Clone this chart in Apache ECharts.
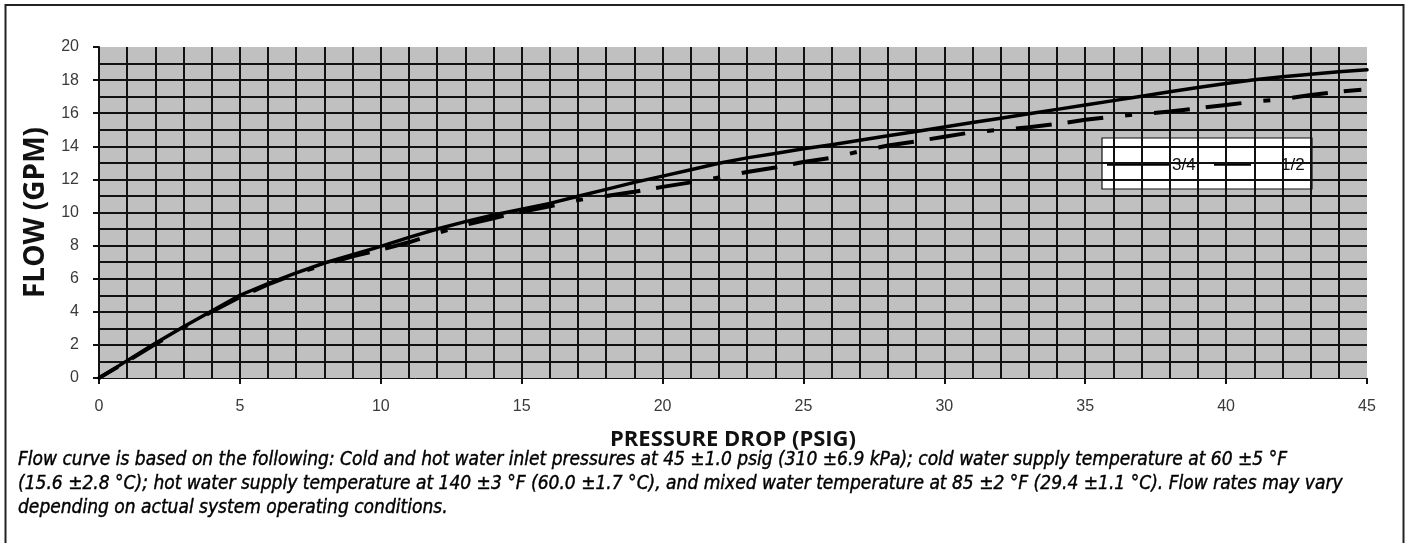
<!DOCTYPE html>
<html><head><meta charset="utf-8">
<script src="https://cdn.jsdelivr.net/npm/echarts@6/dist/echarts.min.js"></script>
<style>html,body{margin:0;padding:0;background:#fff}#c{width:1407px;height:543px}</style>
</head><body><div id="c"></div>
<script>
const pressure34 = [0,1,2,3,4,5,6,7,8,9,10,11,12,13,14,15,16,17,18,19,20,21,22,23,24,25,26,27,28,29,30,31,32,33,34,35,36,37,38,39,40,41,42,43,44,45];
const flow34 = [0,1.05,2.1,3.1,4.05,5.0,5.7,6.35,6.95,7.45,7.95,8.5,9.0,9.45,9.85,10.2,10.55,10.98,11.4,11.82,12.2,12.58,12.98,13.3,13.57,13.85,14.1,14.37,14.64,14.9,15.17,15.44,15.7,15.97,16.23,16.5,16.76,17.03,17.3,17.55,17.8,18.02,18.2,18.35,18.5,18.62];
const pressure12 = [0,1,2,3,4,5,6,7,8,9,10,11,12,13,14,15,16,17,18,19,20,21,22,23,24,25,26,27,28,29,30,31,32,33,34,35,36,37,38,39,40,41,42,43,44,44.8];
const flow12 = [0,1.0,2.05,3.05,4.0,4.9,5.65,6.3,6.85,7.35,7.75,8.2,8.75,9.25,9.65,10.05,10.38,10.75,11.0,11.25,11.55,11.82,12.12,12.45,12.72,13.05,13.3,13.7,14.05,14.3,14.58,14.85,15.0,15.15,15.35,15.6,15.8,15.95,16.1,16.3,16.5,16.7,16.85,17.1,17.3,17.42];
const seriesNames = ['3/4','1/2'];
const xTitle = 'PRESSURE DROP (PSIG)';
const yTitle = 'FLOW (GPM)';
const captionLines = [
  'Flow curve is based on the following: Cold and hot water inlet pressures at 45 \u00b11.0 psig (310 \u00b16.9 kPa); cold water supply temperature at 60 \u00b15 \u00b0F',
  '(15.6 \u00b12.8 \u00b0C); hot water supply temperature at 140 \u00b13 \u00b0F (60.0 \u00b11.7 \u00b0C), and mixed water temperature at 85 \u00b12 \u00b0F (29.4 \u00b11.1 \u00b0C). Flow rates may vary',
  'depending on actual system operating conditions.'
];

const capFamily = '"Liberation Sans Narrow","DejaVu Sans Condensed","Noto Sans",sans-serif';
const cv = document.createElement('canvas').getContext('2d');
cv.font = 'italic 20px ' + capFamily;
const w20 = cv.measureText(captionLines[0]).width;
const capSize = Math.round(20 * 1267 / w20 * 10) / 10;

const chart = echarts.init(document.getElementById('c'), null, {renderer: 'canvas'});
const gridLine = {show: true, lineStyle: {color: '#111', width: 2}};
const labelFont = '"Liberation Sans",Arial,sans-serif';
const option = {
  backgroundColor: '#fff',
  animation: false,
  grid: {left: 99, right: 40, top: 47, bottom: 165, show: true, backgroundColor: '#c0c0c0', borderWidth: 0},
  xAxis: {
    type: 'value', min: 0, max: 45, interval: 5,
    name: xTitle, nameLocation: 'middle', nameGap: 51,
    nameTextStyle: {fontFamily: '"Open Sans",sans-serif', fontWeight: 'bold', fontSize: 22, color: '#111'},
    axisLine: {show: true, onZero: false, lineStyle: {color: '#111', width: 1}},
    axisTick: {show: true, length: 6, lineStyle: {color: '#111', width: 2}},
    axisLabel: {margin: 21, fontFamily: labelFont, fontSize: 16, color: '#3a3a3a'},
    splitLine: {show: true, showMinLine: false, showMaxLine: false, lineStyle: {color: '#111', width: 2}},
    minorTick: {show: false, splitNumber: 5},
    minorSplitLine: gridLine
  },
  yAxis: {
    type: 'value', min: 0, max: 20, interval: 2,
    name: yTitle, nameLocation: 'middle', nameGap: 45, nameRotate: 90,
    nameTextStyle: {fontFamily: '"Open Sans",sans-serif', fontWeight: 'bold', fontSize: 28, color: '#111'},
    axisLine: {show: true, lineStyle: {color: '#111', width: 2}},
    axisTick: {show: true, length: 6, lineStyle: {color: '#111', width: 2}},
    axisLabel: {margin: 20, fontFamily: labelFont, fontSize: 16, color: '#3a3a3a'},
    splitLine: {show: true, showMinLine: false, showMaxLine: false, lineStyle: {color: '#111', width: 2}},
    minorTick: {show: false, splitNumber: 2},
    minorSplitLine: gridLine
  },
  series: [
    {name: seriesNames[0], type: 'line', showSymbol: false, symbol: 'none', z: 5,
     data: pressure34.map((p, i) => [p, flow34[i]]),
     lineStyle: {color: '#000', width: 3.5, cap: 'round', join: 'round'}},
    {name: seriesNames[1], type: 'line', showSymbol: false, symbol: 'none', z: 4,
     data: pressure12.map((p, i) => [p, flow12[i]]),
     lineStyle: {color: '#000', width: 4, type: [36, 16, 36, 22, 7, 22], dashOffset: 14, cap: 'butt', join: 'round'}}
  ],
  graphic: [
    {type: 'rect', silent: true, z: 100, shape: {x: 5.5, y: 5, width: 1398, height: 560},
     style: {fill: 'none', stroke: '#222', lineWidth: 2}},
    {type: 'group', z: 100, children: [
      {type: 'rect', shape: {x: 1102, y: 138, width: 210, height: 51}, style: {fill: '#fff', stroke: '#111', lineWidth: 1.2}},
      {type: 'line', shape: {x1: 1107, y1: 164, x2: 1171, y2: 164}, style: {stroke: '#000', lineWidth: 3.5}},
      {type: 'text', x: 1172, y: 165, style: {text: seriesNames[0], font: '17px ' + labelFont, fill: '#111', verticalAlign: 'middle'}},
      {type: 'line', shape: {x1: 1214, y1: 164, x2: 1251, y2: 164}, style: {stroke: '#000', lineWidth: 3.5}},
      {type: 'text', x: 1281, y: 165, style: {text: seriesNames[1], font: '17px ' + labelFont, fill: '#111', verticalAlign: 'middle'}}
    ]},
    ...captionLines.map((t, i) => ({type: 'text', x: 18, y: 460 + i * 24, z: 100,
      style: {text: t, font: 'italic ' + capSize + 'px ' + capFamily, fill: '#000', stroke: '#000', lineWidth: 0.4, verticalAlign: 'middle'}}))
  ]
};
chart.setOption(option);
</script></body></html>
